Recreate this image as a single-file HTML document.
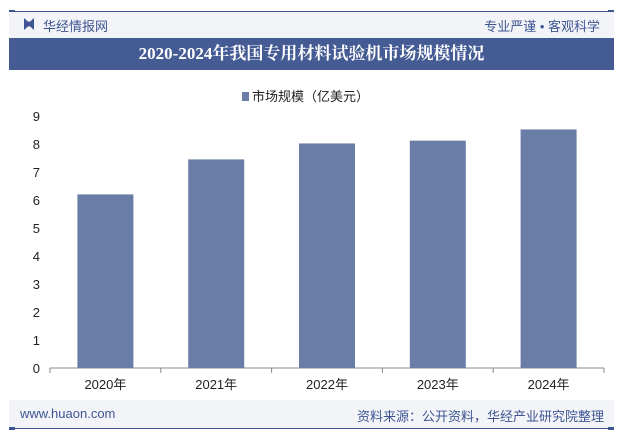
<!DOCTYPE html>
<html><head><meta charset="utf-8"><style>
body{margin:0;width:626px;height:436px;background:#fff;font-family:"Liberation Sans","Noto Sans CJK SC",sans-serif;position:relative;overflow:hidden}
.a{position:absolute}
</style></head><body>
<div class="a" style="left:9px;top:11px;width:605px;height:1px;background:#3f5592"></div>
<div class="a" style="left:9px;top:10px;width:6px;height:3px;background:#3f5592"></div>
<div class="a" style="left:608px;top:10px;width:6px;height:3px;background:#3f5592"></div>
<div class="a" style="left:9px;top:12px;width:605px;height:26px;background:#f2f4f8"></div>
<div class="a" style="left:24px;top:18px;width:10px;height:12px;background:#3f5592;clip-path:polygon(0 0,40% 30%,60% 30%,100% 0,100% 100%,60% 70%,40% 70%,0 100%)"></div>
<div class="a" style="left:43px;top:16px;font-size:13px;color:#3f5592">华经情报网</div>
<div class="a" style="right:26px;top:16px;font-size:13px;color:#3f5592">专业严谨 • 客观科学</div>
<div class="a" style="left:9px;top:38px;width:605px;height:32px;background:#455b94;color:#fff;font-family:'Liberation Serif','Noto Serif CJK SC',serif;font-weight:bold;font-size:17px;text-align:center;line-height:32px">2020-2024年我国专用材料试验机市场规模情况</div>
<div class="a" style="left:242px;top:86px;font-size:13px;color:#222"><span style="display:inline-block;width:7px;height:9px;background:#6a7da6;margin-right:3px"></span>市场规模（亿美元）</div>
<svg class="a" style="left:0;top:0" width="626" height="436">
<g id="g"></g></svg>
<div class="a" style="left:9px;top:400px;width:605px;height:28px;background:#f2f4f8"></div>
<div class="a" style="left:20px;top:406px;font-size:13px;color:#3f5592">www.huaon.com</div>
<div class="a" style="right:22px;top:406px;font-size:13px;color:#3f5592">资料来源：公开资料，华经产业研究院整理</div>
<div class="a" style="left:9px;top:428px;width:605px;height:1px;background:#3f5592"></div>
<div class="a" style="left:9px;top:427px;width:6px;height:3px;background:#3f5592"></div>
<div class="a" style="left:608px;top:427px;width:6px;height:3px;background:#3f5592"></div>
<script>
const categories=["2020年","2021年","2022年","2023年","2024年"];
const values=[6.2,7.45,8.02,8.12,8.52];
const yTicks=[0,1,2,3,4,5,6,7,8,9];
const ns="http://www.w3.org/2000/svg",g=document.getElementById("g");
const X0=50,X1=604,Y0=368,Y1=116,yMax=9;
const y=v=>Y0-(v/yMax)*(Y0-Y1);
const band=(X1-X0)/categories.length;
function mk(t,a){const e=document.createElementNS(ns,t);for(const k in a)e.setAttribute(k,a[k]);g.appendChild(e);return e;}
yTicks.forEach(t=>{const e=mk("text",{x:40,y:y(t)+5,"text-anchor":"end","font-size":13,fill:"#222"});e.textContent=t;

});
mk("line",{x1:X0,y1:Y0,x2:X1,y2:Y0,stroke:"#888"});
for(let i=0;i<=categories.length;i++)mk("line",{x1:X0+i*band,y1:Y0,x2:X0+i*band,y2:Y0+5,stroke:"#888"});
categories.forEach((c,i)=>{const cx=X0+band*(i+0.5),w=56;
const r=mk("rect",{x:cx-w/2,y:y(values[i]),width:w,height:Y0-y(values[i]),fill:"#6a7da6"});


const t=mk("text",{x:cx,y:389,"text-anchor":"middle","font-size":13,fill:"#222"});t.textContent=c;

});
</script>
</body></html>
